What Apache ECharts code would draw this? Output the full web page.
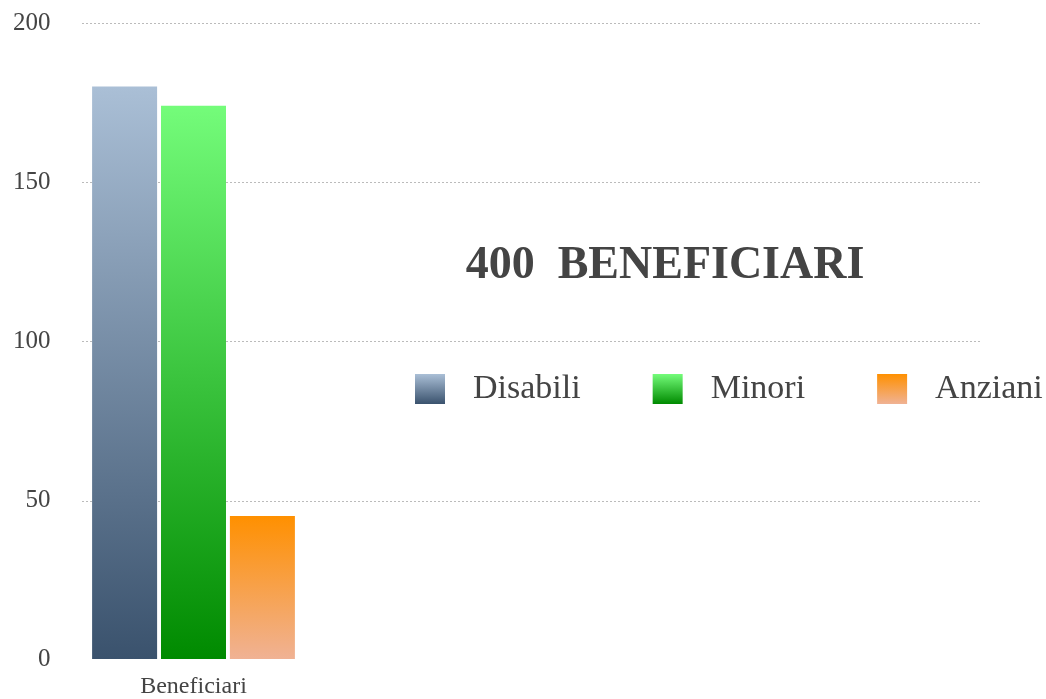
<!DOCTYPE html>
<html>
<head>
<meta charset="utf-8">
<script src="https://cdn.jsdelivr.net/npm/echarts@6/dist/echarts.min.js"></script>
<style>
  html, body { margin: 0; padding: 0; background: #fff; }
  #chart { width: 1046px; height: 699px; }
</style>
</head>
<body>
<div id="chart"></div>
<script>
const categories = ['Beneficiari']
const seriesNames = ['Disabili', 'Minori', 'Anziani']
const seriesValues = [[180], [174], [45]]
const yTicks = [0, 50, 100, 150, 200]
const titleText = '400  BENEFICIARI'

const gradients = [
  ['#aabfd6', '#3a526d'],
  ['#74fc7a', '#008a00'],
  ['#ff9000', '#f0b294']
]

const font = '"Liberation Serif", "DejaVu Serif", serif'

const chart = echarts.init(document.getElementById('chart'))

const grad = (c) => new echarts.graphic.LinearGradient(0, 0, 0, 1, [
  { offset: 0, color: c[0] },
  { offset: 1, color: c[1] }
])

const option = {
  animation: false,
  title: {
    text: titleText,
    left: 660,
    textAlign: 'center',
    top: 238,
    textStyle: {
      fontFamily: font,
      fontSize: 46,
      fontWeight: 'bold',
      color: '#444'
    }
  },
  legend: {
    left: 410,
    top: 367,
    width: 636,
    itemWidth: 30,
    itemHeight: 30,
    itemGap: 72,
    icon: 'rect',
    textStyle: {
      fontFamily: font,
      fontSize: 34,
      color: '#444',
      padding: [0, 0, 0, 23]
    },
    data: seriesNames
  },
  grid: [
    { left: 84.5, top: 23, bottom: 39, width: 218 },
    { left: 82, top: 23, bottom: 39, right: 64 }
  ],
  xAxis: [
    {
      type: 'category',
      gridIndex: 0,
      data: categories,
      axisLine: { show: false },
      axisTick: { show: false },
      axisLabel: { fontFamily: font, fontSize: 24, color: '#444', margin: 16 }
    },
    { type: 'category', gridIndex: 1, data: categories, show: false }
  ],
  yAxis: [
    {
      type: 'value',
      gridIndex: 0,
      min: yTicks[0],
      max: yTicks[yTicks.length - 1],
      interval: 50,
      axisLine: { show: false },
      axisTick: { show: false },
      splitLine: { show: false },
      axisLabel: { fontFamily: font, fontSize: 25, color: '#444', margin: 34 }
    },
    {
      type: 'value',
      gridIndex: 1,
      min: yTicks[0],
      max: yTicks[yTicks.length - 1],
      interval: 50,
      axisLine: { show: false },
      axisTick: { show: false },
      axisLabel: { show: false },
      splitLine: {
        show: true,
        showMinLine: false,
        lineStyle: { color: '#bbb', type: [2, 2], width: 1 }
      }
    }
  ],
  series: seriesNames.map((name, i) => ({
    name: name,
    type: 'bar',
    xAxisIndex: 0,
    yAxisIndex: 0,
    barWidth: 65,
    barGap: '6%',
    data: seriesValues[i],
    itemStyle: { color: grad(gradients[i]) }
  }))
}

chart.setOption(option)
</script>
</body>
</html>
